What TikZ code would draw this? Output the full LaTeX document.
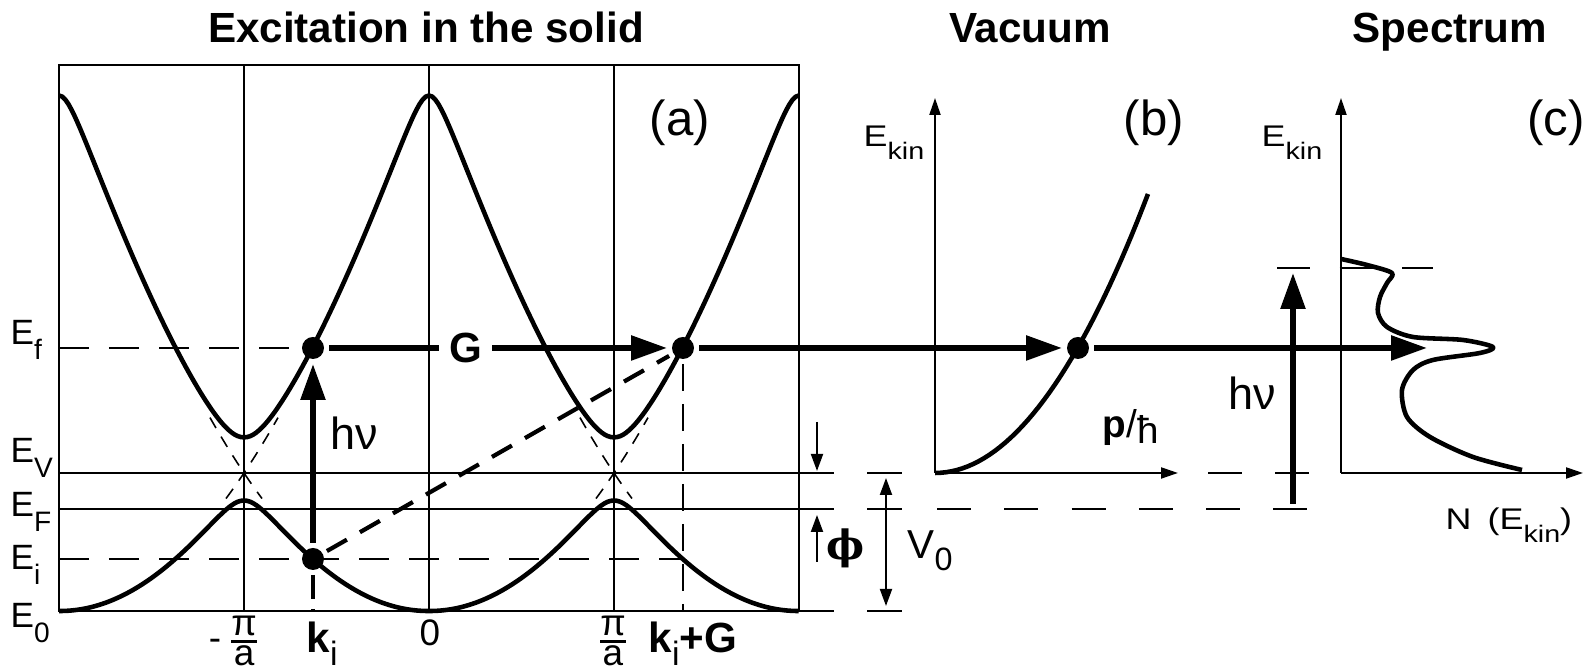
\documentclass[tikz,border=0pt]{standalone}
\usepackage{amsmath}
\usepackage{fontspec}
\setmainfont{Liberation Sans}
\newfontfamily\phifont{DejaVu Serif}
\usetikzlibrary{arrows.meta}

\newcommand{\Esub}[3][0.42em]{#2\raisebox{-#1}{\scalebox{0.8}{#3}}}
\newcommand{\wide}[1]{\scalebox{1.2}[1]{#1}}
\newcommand{\pia}{$\genfrac{}{}{0.8pt}{1}{\mbox{π}}{\mbox{a}}$}

\begin{document}
\begin{tikzpicture}[
 declare function={ww(\x)=1.85-abs(1.85-abs(\x-4.29));
  lowb(\w)=0.2016*(\w*\w+(3.7-\w)*(3.7-\w))-sqrt((0.7459*(3.7-2*\w))*(0.7459*(3.7-2*\w))+0.0841)+0.015;
  upb(\w)=0.2016*(\w*\w+(3.7-\w)*(3.7-\w))+sqrt((0.7459*(3.7-2*\w))*(0.7459*(3.7-2*\w))+0.1369)+0.4032*(13.69+\w*\w)-sqrt(8.9025*\w*\w+0.1521)-0.4032*(3.7-\w)*(3.7-\w);},
 thinl/.style={line width=0.55pt},
 band/.style={line width=1.3pt,line join=round},
 fdash/.style={line width=0.55pt,dash pattern=on 0.3cm off 0.2cm},
 fedash/.style={line width=0.45pt,dash pattern=on 0.12cm off 0.1cm},
 ldash/.style={line width=0.55pt,dash pattern=on 0.34cm off 0.333cm},
 mdash/.style={line width=0.8pt,dash pattern=on 0.27cm off 0.13cm},
 kdash/.style={line width=1.4pt,dash pattern=on 0.24cm off 0.1cm},
 tdash/.style={line width=1.2pt,dash pattern=on 0.23cm off 0.15cm},
 edot/.style={circle,fill,inner sep=0pt,minimum size=0.22cm,outer sep=0.05cm},
 big arrow/.style={line width=1.6pt,-{Triangle[length=0.36cm,width=0.24cm]}},
 ax/.style={line width=0.6pt,-{Triangle[length=0.17cm,width=0.11cm]}},
 sax/.style={line width=0.55pt,-{Triangle[length=0.17cm,width=0.12cm]}},
 twoway/.style={line width=0.55pt,<->,>={Triangle[length=0.17cm,width=0.12cm]}},
 ttl/.style={anchor=base,inner sep=0pt,font=\bfseries\fontsize{12}{14}\selectfont},
 plab/.style={inner sep=0pt,font=\fontsize{14}{16}\selectfont},
 lev/.style={inner sep=0pt,anchor=base west,font=\fontsize{10}{12}\selectfont},
 kinlab/.style={inner sep=0pt,font=\fontsize{8.5}{10}\selectfont},
 blab/.style={inner sep=0pt,font=\fontsize{10.5}{12}\selectfont},
 hnu/.style={inner sep=0pt,anchor=base west,font=\fontsize{12.8}{14}\selectfont},
 kfont/.style={inner sep=0pt,anchor=base west,font=\fontsize{12}{14}\selectfont}]
\useasboundingbox (0,-0.57) rectangle (15.95,6.11);

% titles
\node[ttl] (t1) at (4.26,5.68) {Excitation in the solid};
\node[ttl] (t2) at (10.30,5.68) {Vacuum};
\node[ttl] (t3) at (14.50,5.68) {Spectrum};

% (a) reduced zone scheme
\draw[line width=0.7pt] (0.59,0) rectangle (7.99,5.46);
\foreach \x in {2.44,4.29,6.14} \draw[thinl] (\x,0)--(\x,5.46);
\foreach \y in {0,1.02,1.38}{
 \draw[thinl] (0.59,\y)--(8.34,\y);
 \draw[thinl] (8.67,\y)--(9.02,\y);}
\draw[band] plot[domain=0.59:7.99,samples=241] (\x,{upb(ww(\x))});
\draw[band] plot[domain=0.59:7.99,samples=241] (\x,{lowb(ww(\x))});
\draw[fedash] plot[domain=2.10:2.62,samples=20] (\x,{0.4032*(\x-4.29)*(\x-4.29)});
\draw[fedash] plot[domain=2.26:2.78,samples=20] (\x,{0.4032*(\x-0.59)*(\x-0.59)});
\draw[fedash] plot[domain=5.96:6.48,samples=20] (\x,{0.4032*(\x-4.29)*(\x-4.29)});
\draw[fedash] plot[domain=5.80:6.32,samples=20] (\x,{0.4032*(\x-7.99)*(\x-7.99)});

\node[lev] (lf) at (0.10,2.66) {\Esub{E}{f}};
\node[lev] (lv) at (0.10,1.48) {\Esub{E}{V}};
\node[lev] (lF) at (0.10,0.94) {\Esub{E}{F}};
\node[lev] (li) at (0.10,0.41) {\Esub{E}{i}};
\node[lev] (l0) at (0.10,-0.17) {\Esub{E}{0}};

\coordinate (ef) at (0.59,2.63);
\coordinate (ei) at (0.59,0.52);
\node[edot] (kf) at (3.13,2.63) {};
\node[edot] (ki) at (3.13,0.52) {};
\node[edot] (kg) at (6.83,2.63) {};
\node[edot] (vac) at (10.78,2.63) {};
\coordinate (spec) at (14.27,2.63);

\draw[fdash] (ef) -- (kf);
\draw[fdash] (ei) -- (ei -| kg);
\draw[mdash] (kg) -- (kg |- 0,0);
\draw[kdash] (ki) -- (ki |- 0,0);
\draw[tdash] (ki) -- (kg);
\draw[big arrow] (ki) -- (kf);
\draw[big arrow] (kf) -- node[pos=0.405,fill=white,inner sep=0.1cm,font=\bfseries\fontsize{12}{14}\selectfont] (G) {G} (kg);
\draw[big arrow] (kg) -- (vac);
\draw[big arrow] (vac) -- (spec);
\node[hnu] (hv1) at (3.30,1.61) {hν};

% work function and inner potential
\coordinate (w1) at (8.17,1.89);
\coordinate (w2) at (8.17,0.49);
\draw[sax] (w1) -- (8.17,1.40);
\draw[sax] (w2) -- (8.17,0.96);
\node[inner sep=0pt,font=\phifont\bfseries\fontsize{11.5}{13}\selectfont] (wf) at (8.46,0.63) {ϕ};
\coordinate (vt) at (8.86,1.38);
\coordinate (vb) at (8.86,0);
\draw[twoway,shorten <=0.05cm,shorten >=0.05cm] (vt) -- (vb);
\node[inner sep=0pt,anchor=base west,font=\fontsize{11.5}{13}\selectfont] (v0) at (9.07,0.52) {\Esub[0.28em]{V}{0}};

\node[blab] (mpi) at (2.35,-0.30) {-\,\pia};
\node[blab] (zero) at (4.30,-0.22) {0};
\node[blab] (ppi) at (6.13,-0.30) {\pia};
\node[kfont] (kil) at (3.06,-0.42) {\Esub[0.3em]{\textbf{k}}{i}};
\node[kfont] (kgl) at (6.48,-0.42) {\Esub[0.3em]{\textbf{k}}{i}\textbf{+G}};
\node[plab] (pa) at (6.80,4.88) {(a)};

% (b) free electron in vacuum
\coordinate (ob) at (9.35,1.38);
\draw[ax] (ob) -- (9.35,5.13);
\draw[ax] (ob) -- (11.78,1.38);
\draw[band] plot[domain=9.35:11.48,samples=40] (\x,{1.38+0.615*(\x-9.35)*(\x-9.35)});
\node[kinlab,anchor=base east] (ekb) at (9.25,4.64) {\wide{\Esub{E}{kin}}};
\node[inner sep=0pt,anchor=base west,font=\fontsize{11}{13}\selectfont] (ph) at (11.02,1.73) {\textbf{p}/\raisebox{-0.25ex}{ħ}};
\node[plab] (pb) at (11.54,4.88) {(b)};
\draw[ldash] (9.37,1.02) -- (13.10,1.02);
\draw[ldash] (12.08,1.38) -- (13.10,1.38);
\draw[ldash,dash pattern=on 0.33cm off 0.295cm] (12.77,3.43) -- (14.33,3.43);

% (c) spectrum
\coordinate (oc) at (13.41,1.38);
\draw[ax] (oc) -- (13.41,5.13);
\draw[ax] (oc) -- (15.83,1.38);
\draw[band] plot[smooth,tension=0.5] coordinates {(13.41,3.52) (13.67,3.46) (13.92,3.38)
 (13.87,3.28) (13.80,3.14) (13.78,2.98) (13.87,2.84) (14.13,2.74) (14.63,2.71) (14.93,2.64)
 (14.80,2.58) (14.33,2.51) (14.13,2.41) (14.02,2.21) (14.07,1.94) (14.30,1.74) (14.73,1.54) (15.22,1.41)};
\coordinate (hb) at (12.93,1.07);
\coordinate (ht) at (12.93,3.38);
\draw[big arrow] (hb) -- (ht);
\node[hnu] (hv2) at (12.28,2.01) {hν};
\node[kinlab,anchor=base east] (ekc) at (13.23,4.64) {\wide{\Esub{E}{kin}}};
\node[kinlab,anchor=base west] (nek) at (14.45,0.81) {\wide{N\hspace{0.45em}(\Esub{E}{kin})}};
\node[plab] (pc) at (15.56,4.88) {(c)};
\end{tikzpicture}
\end{document}
